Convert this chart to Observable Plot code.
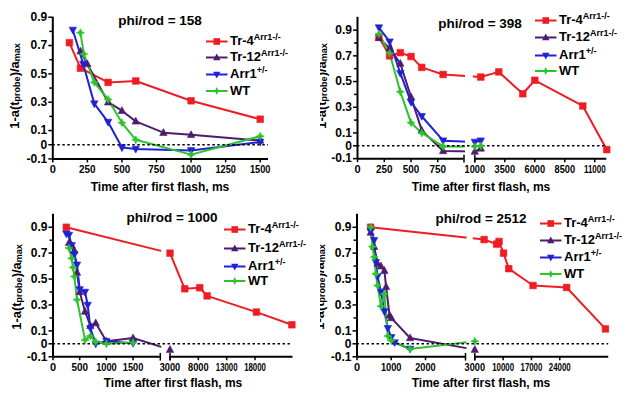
<!DOCTYPE html>
<html><head><meta charset="utf-8">
<script src="https://cdn.jsdelivr.net/npm/d3@7"></script>
<script src="https://cdn.jsdelivr.net/npm/@observablehq/plot@0.6"></script>
<style>
html,body{margin:0;padding:0;background:#fff;}
#root{position:relative;width:641px;height:405px;overflow:hidden;background:#fff;font-family:"Liberation Sans",Arial,sans-serif;font-weight:bold;color:#000;}
.panel{position:absolute;overflow:hidden;background:#fff;}
.panel svg.pl{position:absolute;left:0;top:0;}
.title{position:absolute;font-size:13.5px;white-space:nowrap;transform:translate(-50%,-50%);}
.xlabel{position:absolute;font-size:12px;white-space:nowrap;transform:translate(-50%,-50%);}
.ylabel{position:absolute;font-size:13px;white-space:nowrap;transform:translate(-50%,-50%) rotate(-90deg);}
.ylabel sub{font-size:9px;vertical-align:baseline;position:relative;top:1px;}
.lg{position:absolute;display:flex;align-items:center;white-space:nowrap;font-size:13px;transform:translateY(-50%);line-height:16px;}
.lg svg{margin-right:2.5px;overflow:visible;}
.lg sup{font-size:9px;vertical-align:baseline;position:relative;top:-5px;}
</style>
</head><body><div id="root"></div>
<script>
// ---------------- data (time ms, 1-a(tprobe)/amax) ----------------
// phi/rod = 158
const p158_tr4  = [[120,0.72],[200,0.54],[400,0.44],[600,0.45],[1000,0.31],[1500,0.18]];
const p158_tr12 = [[200,0.66],[250,0.57],[400,0.30],[500,0.24],[600,0.165],[800,0.085],[1000,0.07],[1500,0.03]];
const p158_arr1 = [[145,0.81],[220,0.57],[300,0.29],[400,0.16],[500,-0.02],[600,-0.03],[1000,-0.04],[1500,0.02]];
const p158_wt   = [[200,0.79],[225,0.64],[300,0.44],[400,0.32],[500,0.155],[600,0.035],[1000,-0.07],[1500,0.06]];
// phi/rod = 398
const p398_tr4  = [[200,0.845],[300,0.70],[400,0.725],[500,0.695],[600,0.61],[800,0.555],[1500,0.535],[3000,0.575],[5000,0.405],[6000,0.51],[10000,0.31],[12000,-0.03]];
const p398_tr12 = [[200,0.84],[300,0.76],[400,0.64],[500,0.38],[600,0.12],[800,-0.04],[1000,-0.045],[1500,-0.02]];
const p398_arr1 = [[200,0.92],[300,0.81],[400,0.565],[500,0.34],[600,0.23],[800,0.04],[1000,0.03],[1500,0.04]];
const p398_wt   = [[200,0.87],[300,0.72],[400,0.42],[500,0.18],[600,0.10],[800,-0.005],[1000,-0.005],[1500,0.0]];
// phi/rod = 1000
const p1000_tr4  = [[250,0.90],[3000,0.70],[5600,0.425],[8250,0.433],[9550,0.37],[18250,0.245],[24500,0.147]];
const p1000_tr12 = [[300,0.78],[350,0.76],[400,0.72],[450,0.55],[500,0.40],[600,0.25],[700,0.14],[800,0.16],[1000,0.02],[1500,0.045],[3000,-0.045]];
const p1000_arr1 = [[250,0.85],[300,0.84],[350,0.76],[400,0.69],[450,0.61],[500,0.42],[600,0.40],[650,0.30],[700,0.12],[800,0.0],[1000,0.02],[1500,0.005]];
const p1000_wt   = [[300,0.74],[350,0.66],[375,0.59],[400,0.52],[450,0.34],[600,0.03],[700,0.06],[800,0.015],[1000,0.0],[1500,0.01]];
// phi/rod = 2512
const p2512_tr4  = [[400,0.90],[5300,0.805],[8400,0.77],[9000,0.79],[10100,0.70],[11400,0.58],[17400,0.45],[25700,0.435],[35300,0.115]];
const p2512_tr12 = [[400,0.86],[500,0.75],[600,0.62],[700,0.60],[800,0.565],[850,0.44],[950,0.22],[1000,0.20],[1550,0.045],[3000,-0.045]];
const p2512_arr1 = [[400,0.87],[500,0.80],[550,0.63],[600,0.52],[700,0.40],[800,0.25],[900,0.12],[1000,0.05],[1100,0.01],[1550,-0.04]];
const p2512_wt   = [[400,0.90],[450,0.75],[500,0.67],[550,0.54],[600,0.45],[700,0.29],[800,0.385],[900,0.06],[1000,0.025],[1550,-0.04],[3000,0.02]];

// tick labels
const p158_xticks  = [0,250,500,750,1000,1250,1500];
const p398_xticks  = [0,250,500,750,1000,3500,6000,8500,11000];
const p1000_xticks = [0,500,1000,1500,3000,8000,13000,18000];
const p2512_xticks = [0,1000,2000,3000,10000,17000,24000];
const yticks      = [-0.1,0,0.1,0.3,0.5,0.7,0.9];
const yminorticks = [0.2,0.4,0.6,0.8];

// broken-axis domains and breaks (ms)
const p158_xdomain  = [0,1560];
const p398_xdomain  = [0,995,1000,12000];
const p1000_xdomain = [0,2010,3000,24700];
const p2512_xdomain = [0,2000,2999,3000,36100];
const p398_break  = [995,1000];
const p1000_break = [2010,3000];
const p2512_break = [2999,3000];

const seriesNames = ["Tr-4","Tr-12","Arr1","WT"];
const seriesSups  = ["Arr1-/-","Arr1-/-","+/-",""];
const titles = ["phi/rod = 158","phi/rod = 398","phi/rod = 1000","phi/rod = 2512"];
const yLabelMain = ["1-a(t", "probe", ")/a", "max"];
const xLabelText = "Time after first flash, ms";

// ---------------- symbols ----------------
const rOf = s => Math.sqrt(s/Math.PI);
const symSquare = {draw(c,s){const r=rOf(s)*0.92;c.moveTo(-r,-r);c.lineTo(r,-r);c.lineTo(r,r);c.lineTo(-r,r);c.closePath();}};
const symTriUp  = {draw(c,s){const r=rOf(s);c.moveTo(0,-r*1.1);c.lineTo(r,r*0.75);c.lineTo(-r,r*0.75);c.closePath();}};
const symTriDn  = {draw(c,s){const r=rOf(s);c.moveTo(0,r*1.1);c.lineTo(r,-r*0.75);c.lineTo(-r,-r*0.75);c.closePath();}};
const symStar   = {draw(c,s){const r=rOf(s),q=r*0.32;c.moveTo(0,-r);c.lineTo(q,-q);c.lineTo(r,0);c.lineTo(q,q);c.lineTo(0,r);c.lineTo(-q,q);c.lineTo(-r,0);c.lineTo(-q,-q);c.closePath();}};
const symVBar   = {draw(c,s){const r=rOf(s);c.moveTo(0,-r);c.lineTo(0,r);}};

const styles = [
  {color:"#ee1d23", sym:symSquare, r:3.6},
  {color:"#4e1c6f", sym:symTriUp,  r:3.7},
  {color:"#2020d8", sym:symTriDn,  r:3.7},
  {color:"#2bc52b", sym:symStar,   r:4.0}
];

// ---------------- layout ----------------
const panels = [
  {title:titles[0], box:[0,0,320,200], data:[p158_tr4,p158_tr12,p158_arr1,p158_wt], xDomain:p158_xdomain, brk:null, xTicks:p158_xticks,
   xRange:[52.3,268], yTop:0.9, yPx:[16.7,158.4], h:200, titleAt:[160,19.5], legend:[206,[41,57.3,74,90.7]], xLabelAt:[160,187], yLabelAt:[14,86]},
  {title:titles[1], box:[320,0,321,200], data:[p398_tr4,p398_tr12,p398_arr1,p398_wt], xDomain:p398_xdomain, brk:p398_break, xTicks:p398_xticks,
   xRange:[37,143.5,154.3,286.3], yTop:1.0, yPx:[16.8,158.15], h:200, titleAt:[160,23.3], legend:[215,[20,37.3,55,70.7]], xLabelAt:[161,186.7], yLabelAt:[0.5,86]},
  {title:titles[2], box:[0,200,320,205], data:[p1000_tr4,p1000_tr12,p1000_arr1,p1000_wt], xDomain:p1000_xdomain, brk:p1000_break, xTicks:p1000_xticks,
   xRange:[52.5,159.8,169.5,292.5], yTop:1.0, yPx:[13.8,156.25], h:205, titleAt:[172,16.7], legend:[224,[29.3,48.3,66.2,81]], xLabelAt:[173,183.3], yLabelAt:[16,87]},
  {title:titles[3], box:[320,200,321,205], data:[p2512_tr4,p2512_tr12,p2512_arr1,p2512_wt], xDomain:p2512_xdomain, brk:p2512_break, xTicks:p2512_xticks,
   xRange:[36.5,105,145,154.3,288.2], yTop:1.0, yPx:[13.8,156.25], h:205, titleAt:[161,18], legend:[220,[23,40,57,73.5]], xLabelAt:[161,183.3], yLabelAt:[-1,87]}
];

const root = d3.select("#root");
const fmtY = d => d === 0 ? "0" : String(d);
const tickLabelWidth = {3:16.5, 4:20.5, 5:21.8};

for (const P of panels) {
  const [L,T,W,H] = P.box;
  const div = root.append("div").attr("class","panel")
    .style("left",L+"px").style("top",T+"px").style("width",W+"px").style("height",H+"px");
  const dom = P.xDomain;
  const segs = P.brk ? [[dom[0],P.brk[0]],[P.brk[1],dom[dom.length-1]]] : [[dom[0],dom[dom.length-1]]];
  const breakTicks = P.brk ? P.brk : [];
  const width = W;
  const xr = P.xRange;
  const marks = [];
  P.data.forEach((pts,i) => marks.push(Plot.line(pts, {x:d=>d[0], y:d=>d[1], stroke:styles[i].color, strokeWidth:2})));
  if (P.brk) marks.push(Plot.rect([P.brk], {x1:d=>d[0], x2:d=>d[1], fill:"white", insetLeft:1.5, insetRight:1.5}));
  marks.push(Plot.ruleY([0], {stroke:"#000", strokeWidth:1.4, strokeDasharray:"2.5,2.5"}));
  P.data.forEach((pts,i) => marks.push(Plot.dot(pts, {x:d=>d[0], y:d=>d[1], symbol:styles[i].sym, r:styles[i].r, fill:styles[i].color, stroke:styles[i].color, strokeWidth:0.6})));
  marks.push(Plot.ruleX([0], {y1:-0.1, y2:P.yTop, stroke:"#000", strokeWidth:2}));
  marks.push(Plot.ruleY(segs, {y:()=>-0.1, x1:d=>d[0], x2:d=>d[1], stroke:"#000", strokeWidth:2}));
  if (breakTicks.length) marks.push(Plot.dot(breakTicks, {x:d=>d, y:()=>-0.1, symbol:symVBar, r:3.8, fill:"none", stroke:"#000", strokeWidth:1.5}));
  marks.push(Plot.axisX({ticks:P.xTicks, tickSize:4, tickPadding:2.5, tickFormat:d=>String(d), fontSize:11, fontWeight:"bold", strokeWidth:1.5, label:null}));
  marks.push(Plot.axisY({ticks:yticks, tickSize:4, tickPadding:1.5, tickFormat:fmtY, fontSize:12, fontWeight:"bold", strokeWidth:1.5, label:null}));
  marks.push(Plot.axisY({ticks:yminorticks, tickSize:3, tickFormat:()=>"", strokeWidth:1.5, label:null}));

  const svg = Plot.plot({
    width: width, height: P.h,
    marginLeft: xr[0], marginRight: width - xr[xr.length-1],
    marginTop: P.yPx[0], marginBottom: P.h - P.yPx[1],
    x: {type:"linear", domain: dom, range: xr},
    y: {type:"linear", domain: [-0.1, P.yTop]},
    style: {fontFamily:"'Liberation Sans', Arial, sans-serif", fontWeight:"bold", background:"transparent", color:"#000"},
    marks
  });
  svg.classList.add("pl");
  // condensed x tick labels as in the reference
  d3.select(svg).selectAll('g[aria-label="x-axis tick label"] text').each(function() {
    const w = tickLabelWidth[this.textContent.length];
    if (w) d3.select(this).attr("textLength", w).attr("lengthAdjust","spacingAndGlyphs");
  });
  div.node().appendChild(svg);

  div.append("div").attr("class","title").style("left",P.titleAt[0]+"px").style("top",P.titleAt[1]+"px").text(P.title);
  div.append("div").attr("class","xlabel").style("left",P.xLabelAt[0]+"px").style("top",P.xLabelAt[1]+"px").text(xLabelText);
  const yl = div.append("div").attr("class","ylabel").style("left",P.yLabelAt[0]+"px").style("top",P.yLabelAt[1]+"px");
  yl.append("span").text(yLabelMain[0]); yl.append("sub").text(yLabelMain[1]);
  yl.append("span").text(yLabelMain[2]); yl.append("sub").text(yLabelMain[3]);

  const [lx, rows] = P.legend;
  seriesNames.forEach((name,i) => {
    const row = div.append("div").attr("class","lg").style("left",lx+"px").style("top",rows[i]+"px");
    const s = row.append("svg").attr("width",21.5).attr("height",12);
    s.append("line").attr("x1",0).attr("x2",21.5).attr("y1",6).attr("y2",6).attr("stroke",styles[i].color).attr("stroke-width",2);
    const p = d3.path(); styles[i].sym.draw(p, Math.PI*styles[i].r*styles[i].r);
    s.append("path").attr("d",p.toString()).attr("transform","translate(10.75,6)").attr("fill",styles[i].color);
    const t = row.append("span"); t.append("span").text(name);
    if (seriesSups[i]) t.append("sup").text(seriesSups[i]);
  });
}
</script></body></html>
